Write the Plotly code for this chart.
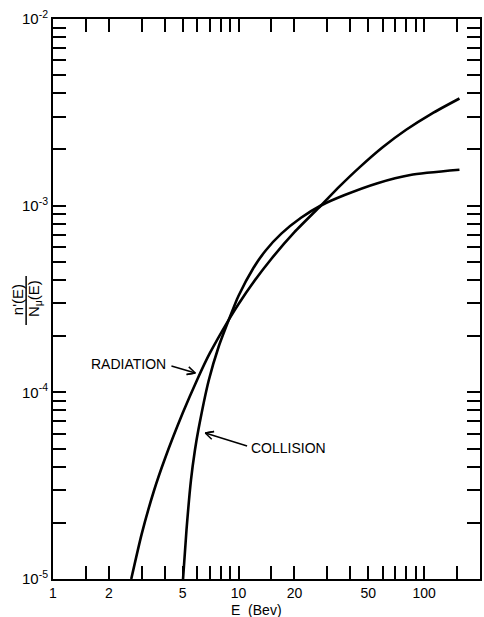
import plotly.graph_objects as go

# ---- data ----
rad_E = [2.64, 3.0, 3.5, 4.0, 5.0, 6.0, 7.0, 8.85, 10, 12, 15, 20, 27.8, 35, 45, 60, 80, 110, 155]
rad_y = [1.0e-5, 1.73e-5, 2.97e-5, 4.38e-5, 7.74e-5, 1.176e-4, 1.62e-4, 2.446e-4, 2.975e-4,
         3.877e-4, 5.18e-4, 7.21e-4, 1.002e-3, 1.268e-3, 1.609e-3, 2.062e-3, 2.551e-3, 3.116e-3, 3.751e-3]

col_E = [5.02, 5.24, 5.54, 5.82, 6.07, 6.91, 7.8, 8.85, 10, 12, 14, 17, 21.7, 27.8, 37.3, 56.1, 84.2, 155]
col_y = [1.0e-5, 1.83e-5, 3.39e-5, 4.91e-5, 6.28e-5, 1.16e-4, 1.75e-4, 2.44e-4, 3.289e-4, 4.624e-4,
         5.754e-4, 7.079e-4, 8.61e-4, 1.002e-3, 1.14e-3, 1.32e-3, 1.46e-3, 1.556e-3]

x_tickvals = [1, 1.5, 2, 3, 4, 5, 6, 7, 8, 9, 10, 15, 20, 30, 40, 50, 60, 70, 80, 90, 100, 150, 200]
x_labeled = {1: "1", 2: "2", 5: "5", 10: "10", 20: "20", 50: "50", 100: "100"}
y_decades = [1e-5, 1e-4, 1e-3, 1e-2]
y_decade_labels = ["10<sup>-5</sup>", "10<sup>-4</sup>", "10<sup>-3</sup>", "10<sup>-2</sup>"]

W, H = 484, 617
ML, MR, MT, MB = 53, 2, 19, 38
PW, PH = W - ML - MR, H - MT - MB

FONT = "Liberation Sans, Arial, sans-serif"

def px(xp, yp):
    return (xp - ML) / PW, (H - MB - yp) / PH

fig = go.Figure()
for E, y in ((rad_E, rad_y), (col_E, col_y)):
    fig.add_trace(go.Scatter(x=E, y=y, mode="lines",
                             line=dict(color="black", width=2.6, shape="spline", smoothing=0.6),
                             showlegend=False, hoverinfo="skip"))

y_tickvals, y_ticktext = [], []
for i, d in enumerate(y_decades):
    y_tickvals.append(d)
    y_ticktext.append(y_decade_labels[i])
    if i < len(y_decades) - 1:
        for m in range(2, 10):
            y_tickvals.append(d * m)
            y_ticktext.append("")

fig.update_xaxes(type="log", range=[0, 2.30103], tickvals=x_tickvals,
                 ticktext=[x_labeled.get(v, "") for v in x_tickvals], tickangle=0,
                 ticks="inside", ticklen=13, tickwidth=1.5, tickcolor="black",
                 showline=True, linecolor="black", linewidth=2, mirror="ticks",
                 showgrid=False, zeroline=False,
                 tickfont=dict(family=FONT, size=14, color="black"))
fig.update_yaxes(type="log", range=[-5, -2], tickvals=y_tickvals, ticktext=y_ticktext,
                 ticks="inside", ticklen=13, tickwidth=1.5, tickcolor="black",
                 showline=True, linecolor="black", linewidth=2, mirror="ticks",
                 showgrid=False, zeroline=False,
                 tickfont=dict(family=FONT, size=15, color="black"))

ann_font = dict(family=FONT, size=14, color="black")
title_font = dict(family=FONT, size=15, color="black")

# x-axis title
x0, y0 = px(257, 610)
fig.add_annotation(x=x0, y=y0, xref="paper", yref="paper", text="E  (Bev)", showarrow=False,
                   font=ann_font, xanchor="center", yanchor="middle")

# y-axis title as a rotated fraction
nx, ny = px(17, 300)
dx_, dy_ = px(34, 299)
fig.add_annotation(x=nx, y=ny, xref="paper", yref="paper", text="n'(E)", textangle=-90,
                   showarrow=False, font=title_font, xanchor="center", yanchor="middle")
fig.add_annotation(x=dx_, y=dy_, xref="paper", yref="paper", text="N<sub>μ</sub>(E)", textangle=-90,
                   showarrow=False, font=title_font, xanchor="center", yanchor="middle")
lx0, ly0 = px(26, 325)
lx1, ly1 = px(26, 276)
fig.add_shape(type="line", xref="paper", yref="paper", x0=lx0, y0=ly0, x1=lx1, y1=ly1,
              line=dict(color="black", width=1.5))

# curve labels
rx, ry = px(129, 364)
fig.add_annotation(x=rx, y=ry, xref="paper", yref="paper", text="RADIATION", showarrow=False,
                   font=ann_font, xanchor="center", yanchor="middle")
cx, cy = px(290, 448)
fig.add_annotation(x=cx, y=cy, xref="paper", yref="paper", text="COLLISION", showarrow=False,
                   font=ann_font, xanchor="center", yanchor="middle")

def arrow(tail, head, barb=8, half=4):
    tx, ty = tail
    hx, hy = head
    L = ((hx - tx) ** 2 + (hy - ty) ** 2) ** 0.5
    ux, uy = (hx - tx) / L, (hy - ty) / L
    pxv, pyv = -uy, ux
    b1 = (hx - barb * ux + half * pxv, hy - barb * uy + half * pyv)
    b2 = (hx - barb * ux - half * pxv, hy - barb * uy - half * pyv)
    pts = [px(*p) for p in (tail, head, b1, head, b2)]
    for a, b in zip(pts[:-1], pts[1:]):
        fig.add_shape(type="line", xref="paper", yref="paper", x0=a[0], y0=a[1], x1=b[0], y1=b[1],
                      line=dict(color="black", width=1.5))

arrow((172, 366), (196, 373))
arrow((248, 446), (206, 433))

fig.update_layout(width=W, height=H, margin=dict(l=ML, r=MR, t=MT, b=MB),
                  paper_bgcolor="white", plot_bgcolor="white")

fig.write_html("out.html")
